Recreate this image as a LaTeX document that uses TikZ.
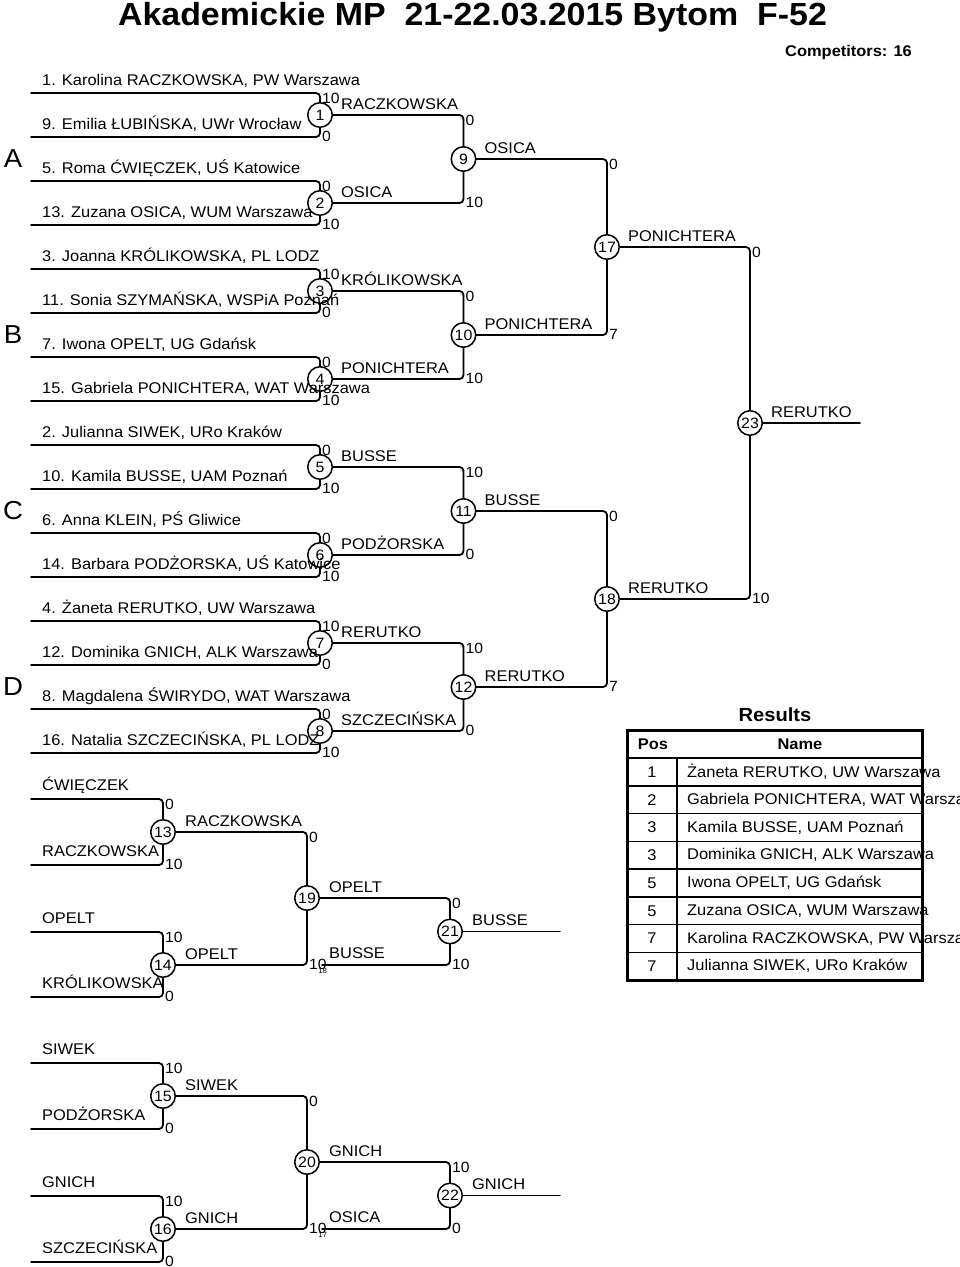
\documentclass[tikz,border=0pt]{standalone}
\usepackage{fontspec}
\setmainfont{Liberation Sans}[FakeStretch=1.06]
\usetikzlibrary{backgrounds}
\newcommand\fs[1]{\fontsize{#1}{#1}\selectfont}
\tikzset{
  ln/.style={line width=1.8pt, rounded corners=4pt, line cap=round},
  mc/.style={circle, draw, line width=1.5pt, fill=white, minimum size=24.5pt, inner sep=0pt, font=\fs{15}},
  nm/.style={anchor=base west, inner sep=0pt, font=\fs{15.5}},
  sc/.style={anchor=west, inner sep=0pt, font=\fs{14.8}},
  tiny/.style={anchor=west, inner sep=0pt, font=\fs{7.5}},
  pool/.style={inner sep=0pt, font=\fs{26}},
  tb/.style={line width=1.5pt},
  tbo/.style={line width=3pt},
}
% scores: name, vx, top y, bottom y, top score, bottom score
\newcommand\scr[6]{%
  \node[sc] (#1t) at (#2+2,#3+5) {#5};
  \node[sc] (#1b) at (#2+2,#4-1) {#6};}
\begin{document}
\begin{tikzpicture}[x=1pt,y=-1pt]
\useasboundingbox (0,0) rectangle (960,1267);

% title
\node[anchor=base, inner sep=0pt] (title) at (472.5,25) {\fs{32}\bfseries Akademickie MP\ \ 21-22.03.2015 Bytom\ \ F-52};
\node[anchor=base east, inner sep=0pt] (comp) at (912,56) {\fs{15.5}\bfseries Competitors: 16};

% pool letters
\node[pool] (pA) at (13,159) {A};
\node[pool] (pB) at (13,335) {B};
\node[pool] (pC) at (13,511) {C};
\node[pool] (pD) at (13,687) {D};

% player line starts
\foreach \k in {0,...,15} { \coordinate (p\k) at (31,93+44*\k); }

% main circles
\node[mc] (m1) at (320,115) {1};
\node[mc] (m2) at (320,203) {2};
\node[mc] (m3) at (320,291) {3};
\node[mc] (m4) at (320,379) {4};
\node[mc] (m5) at (320,467) {5};
\node[mc] (m6) at (320,555) {6};
\node[mc] (m7) at (320,643) {7};
\node[mc] (m8) at (320,731) {8};
\node[mc] (m9) at (463.5,159) {9};
\node[mc] (m10) at (463.5,335) {10};
\node[mc] (m11) at (463.5,511) {11};
\node[mc] (m12) at (463.5,687) {12};
\node[mc] (m17) at (607,247) {17};
\node[mc] (m18) at (607,599) {18};
\node[mc] (m23) at (750,423) {23};
\coordinate (fin) at (860,423);

% repechage 1
\coordinate (qa) at (31,799);
\coordinate (qb) at (31,865);
\coordinate (qc) at (31,932);
\coordinate (qd) at (31,997);
\node[mc] (r13) at (163,832) {13};
\node[mc] (r14) at (163,965) {14};
\node[mc] (r19) at (307,898) {19};
\node[mc] (r21) at (450,931.5) {21};
\coordinate (bl) at (322,965);
\coordinate (e21) at (560,931.5);

% repechage 2
\coordinate (qe) at (31,1063);
\coordinate (qf) at (31,1129);
\coordinate (qg) at (31,1196);
\coordinate (qh) at (31,1262);
\node[mc] (r15) at (163,1096) {15};
\node[mc] (r16) at (163,1229) {16};
\node[mc] (r20) at (307,1162) {20};
\node[mc] (r22) at (450,1195.5) {22};
\coordinate (ol) at (322,1229);
\coordinate (e22) at (560,1195.5);

\begin{scope}[on background layer]
\fill[white] (0,0) rectangle (960,1267);
\draw[ln] (p0) -| (m1.center) |- (p1);
\draw[ln] (p2) -| (m2.center) |- (p3);
\draw[ln] (p4) -| (m3.center) |- (p5);
\draw[ln] (p6) -| (m4.center) |- (p7);
\draw[ln] (p8) -| (m5.center) |- (p9);
\draw[ln] (p10) -| (m6.center) |- (p11);
\draw[ln] (p12) -| (m7.center) |- (p13);
\draw[ln] (p14) -| (m8.center) |- (p15);
\draw[ln] (m1.center) -| (m9.center) |- (m2.center);
\draw[ln] (m3.center) -| (m10.center) |- (m4.center);
\draw[ln] (m5.center) -| (m11.center) |- (m6.center);
\draw[ln] (m7.center) -| (m12.center) |- (m8.center);
\draw[ln] (m9.center) -| (m17.center) |- (m10.center);
\draw[ln] (m11.center) -| (m18.center) |- (m12.center);
\draw[ln] (m17.center) -| (m23.center) |- (m18.center);
\draw[ln] (m23.center) -- (fin);
% rep 1
\draw[ln] (qa) -| (r13.center) |- (qb);
\draw[ln] (qc) -| (r14.center) |- (qd);
\draw[ln] (r13.center) -| (r19.center) |- (r14.center);
\draw[ln] (r19.center) -| (r21.center) |- (bl);
\draw[ln] (r21.center) -- (e21);
% rep 2
\draw[ln] (qe) -| (r15.center) |- (qf);
\draw[ln] (qg) -| (r16.center) |- (qh);
\draw[ln] (r15.center) -| (r20.center) |- (r16.center);
\draw[ln] (r20.center) -| (r22.center) |- (ol);
\draw[ln] (r22.center) -- (e22);
\end{scope}

% player names
\node[nm] (n0) at (42,85) {1. Karolina RACZKOWSKA, PW Warszawa};
\node[nm] (n1) at (42,129) {9. Emilia ŁUBIŃSKA, UWr Wrocław};
\node[nm] (n2) at (42,173) {5. Roma ĆWIĘCZEK, UŚ Katowice};
\node[nm] (n3) at (42,217) {13. Zuzana OSICA, WUM Warszawa};
\node[nm] (n4) at (42,261) {3. Joanna KRÓLIKOWSKA, PL LODZ};
\node[nm] (n5) at (42,305) {11. Sonia SZYMAŃSKA, WSPiA Poznań};
\node[nm] (n6) at (42,349) {7. Iwona OPELT, UG Gdańsk};
\node[nm] (n7) at (42,393) {15. Gabriela PONICHTERA, WAT Warszawa};
\node[nm] (n8) at (42,437) {2. Julianna SIWEK, URo Kraków};
\node[nm] (n9) at (42,481) {10. Kamila BUSSE, UAM Poznań};
\node[nm] (n10) at (42,525) {6. Anna KLEIN, PŚ Gliwice};
\node[nm] (n11) at (42,569) {14. Barbara PODŻORSKA, UŚ Katowice};
\node[nm] (n12) at (42,613) {4. Żaneta RERUTKO, UW Warszawa};
\node[nm] (n13) at (42,657) {12. Dominika GNICH, ALK Warszawa};
\node[nm] (n14) at (42,701) {8. Magdalena ŚWIRYDO, WAT Warszawa};
\node[nm] (n15) at (42,745) {16. Natalia SZCZECIŃSKA, PL LODZ};

% winner labels main
\node[nm] (w1) at (341,109) {RACZKOWSKA};
\node[nm] (w2) at (341,197) {OSICA};
\node[nm] (w3) at (341,285) {KRÓLIKOWSKA};
\node[nm] (w4) at (341,373) {PONICHTERA};
\node[nm] (w5) at (341,461) {BUSSE};
\node[nm] (w6) at (341,549) {PODŻORSKA};
\node[nm] (w7) at (341,637) {RERUTKO};
\node[nm] (w8) at (341,725) {SZCZECIŃSKA};
\node[nm] (w9) at (484.5,153) {OSICA};
\node[nm] (w10) at (484.5,329) {PONICHTERA};
\node[nm] (w11) at (484.5,505) {BUSSE};
\node[nm] (w12) at (484.5,681) {RERUTKO};
\node[nm] (w17) at (628,241) {PONICHTERA};
\node[nm] (w18) at (628,593) {RERUTKO};
\node[nm] (w23) at (771,417) {RERUTKO};

% scores main
\scr{s1}{320}{93}{137}{10}{0}
\scr{s2}{320}{181}{225}{0}{10}
\scr{s3}{320}{269}{313}{10}{0}
\scr{s4}{320}{357}{401}{0}{10}
\scr{s5}{320}{445}{489}{0}{10}
\scr{s6}{320}{533}{577}{0}{10}
\scr{s7}{320}{621}{665}{10}{0}
\scr{s8}{320}{709}{753}{0}{10}
\scr{s9}{463.5}{115}{203}{0}{10}
\scr{s10}{463.5}{291}{379}{0}{10}
\scr{s11}{463.5}{467}{555}{10}{0}
\scr{s12}{463.5}{643}{731}{10}{0}
\scr{s17}{607}{159}{335}{0}{7}
\scr{s18}{607}{511}{687}{0}{7}
\scr{s23}{750}{247}{599}{0}{10}

% repechage 1 texts
\node[nm] (ra) at (42,790) {ĆWIĘCZEK};
\node[nm] (rb) at (42,856) {RACZKOWSKA};
\node[nm] (rc) at (42,923) {OPELT};
\node[nm] (rd) at (42,988) {KRÓLIKOWSKA};
\node[nm] (w13) at (185,826) {RACZKOWSKA};
\node[nm] (w14) at (185,959) {OPELT};
\node[nm] (w19) at (329,892) {OPELT};
\node[nm] (wb) at (329,958) {BUSSE};
\node[nm] (w21) at (472,925.5) {BUSSE};
\scr{s13}{163}{799}{865}{0}{10}
\scr{s14}{163}{932}{997}{10}{0}
\scr{s19}{307}{832}{965}{0}{10}
\scr{s21}{450}{898}{965}{0}{10}
\node[tiny] (l18) at (318,971) {18};

% repechage 2 texts
\node[nm] (re) at (42,1054) {SIWEK};
\node[nm] (rf) at (42,1120) {PODŻORSKA};
\node[nm] (rg) at (42,1187) {GNICH};
\node[nm] (rh) at (42,1253) {SZCZECIŃSKA};
\node[nm] (w15) at (185,1090) {SIWEK};
\node[nm] (w16) at (185,1223) {GNICH};
\node[nm] (w20) at (329,1156) {GNICH};
\node[nm] (wo) at (329,1222) {OSICA};
\node[nm] (w22) at (472,1189.5) {GNICH};
\scr{s15}{163}{1063}{1129}{10}{0}
\scr{s16}{163}{1196}{1262}{10}{0}
\scr{s20}{307}{1096}{1229}{0}{10}
\scr{s22}{450}{1162}{1229}{10}{0}
\node[tiny] (l17) at (318,1235) {17};

% results table
\node[anchor=base, inner sep=0pt] (res) at (775,721) {\fs{19}\bfseries Results};
\draw[tb] (627,758) -- (922,758);
\foreach \i in {1,...,7} { \draw[tb] (627,758+27.75*\i) -- (922,758+27.75*\i); }
\draw[tb] (677,758) -- (677,980);
\draw[tbo] (627,730) rectangle (922,980);
\node[inner sep=0pt, font=\fs{15.5}\bfseries] (hpos) at (653,744) {Pos};
\node[inner sep=0pt, font=\fs{15.5}\bfseries] (hname) at (800,744) {Name};
\foreach \i/\p/\n in {0/1/{Żaneta RERUTKO, UW Warszawa},1/2/{Gabriela PONICHTERA, WAT Warszawa},2/3/{Kamila BUSSE, UAM Poznań},3/3/{Dominika GNICH, ALK Warszawa},4/5/{Iwona OPELT, UG Gdańsk},5/5/{Zuzana OSICA, WUM Warszawa},6/7/{Karolina RACZKOWSKA, PW Warszawa},7/7/{Julianna SIWEK, URo Kraków}} {
  \node[inner sep=0pt, font=\fs{15.5}] (tp\i) at (652,772+27.75*\i) {\p};
  \node[anchor=west, inner sep=0pt, font=\fs{15.5}] (tn\i) at (687,772+27.75*\i) {\n};
}
\end{tikzpicture}
\end{document}
